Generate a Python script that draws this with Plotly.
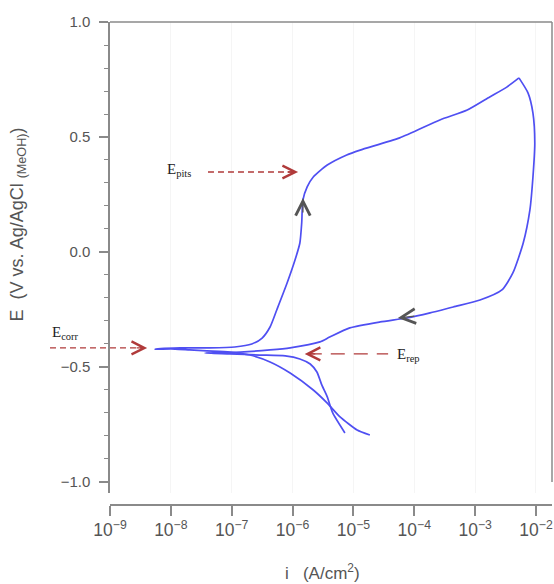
import numpy as np
import plotly.graph_objects as go

# Cyclic polarization curve: log10 of current density (A/cm^2) and potential (V)
# Forward scan: cathodic tail -> Ecorr -> passive range -> pitting -> vertex
fwd_log_i = [-4.73, -4.94, -5.22, -5.43, -5.66, -6.04, -6.37, -6.70, -7.03, -7.41, -7.69, -7.93, -8.26,
             -7.85, -7.36, -6.95, -6.67, -6.50, -6.37, -6.26, -6.09, -5.96, -5.88, -5.85, -5.83, -5.76,
             -5.66, -5.43, -5.11, -4.89, -4.24, -3.58, -3.13, -2.76, -2.48, -2.28]
fwd_E = [-0.796, -0.774, -0.717, -0.657, -0.600, -0.526, -0.478, -0.448, -0.435, -0.430, -0.426, -0.422, -0.422,
         -0.417, -0.417, -0.413, -0.400, -0.374, -0.326, -0.252, -0.135, -0.035, 0.039, 0.126, 0.226, 0.283,
         0.326, 0.378, 0.422, 0.443, 0.496, 0.574, 0.617, 0.674, 0.717, 0.757]

# Reverse scan: vertex -> repassivation -> cathodic tail
rev_log_i = [-2.28, -2.13, -2.05, -2.02, -2.05, -2.10, -2.21, -2.38, -2.56, -2.92,
             -3.36, -3.74, -4.12, -4.56, -5.06, -5.39, -5.55, -6.04, -6.37, -6.86,
             -7.44, -7.03, -6.54, -6.12, -5.88, -5.71, -5.60, -5.52, -5.43, -5.34, -5.14]
rev_E = [0.757, 0.691, 0.604, 0.474, 0.326, 0.183, 0.039, -0.091, -0.165, -0.209,
         -0.239, -0.265, -0.287, -0.304, -0.330, -0.370, -0.391, -0.417, -0.426, -0.435,
         -0.439, -0.443, -0.448, -0.452, -0.465, -0.487, -0.522, -0.578, -0.630, -0.700, -0.787]

# Characteristic potentials (V) and the current (log10) where each arrow points
E_pits, log_i_pits = 0.348, -5.91
E_corr, log_i_corr = -0.417, -8.39
E_rep, log_i_rep = -0.443, -5.80

X_MIN, X_MAX = -9.0, -1.737
Y_MIN, Y_MAX = -1.048, 1.0

CURVE = "#4f4ff2"
AXIS = "#8a8a8a"
TICKTXT = "#555555"
RED = "#b03a3a"
LABEL = "#222222"


def xp(logv):
    """log10 current -> fraction of the x-axis domain"""
    return (logv - X_MIN) / (X_MAX - X_MIN)


fig = go.Figure()
for lg, e in ((fwd_log_i, fwd_E), (rev_log_i, rev_E)):
    fig.add_trace(go.Scatter(
        x=10 ** np.array(lg), y=e, mode="lines",
        line=dict(color=CURVE, width=1.7, shape="spline", smoothing=0.6),
        hoverinfo="skip", showlegend=False,
    ))

shapes = [
    # frame: top and right edges
    dict(type="line", xref="paper", yref="paper", x0=0, x1=1, y0=1, y1=1,
         line=dict(color=AXIS, width=1.5)),
    dict(type="line", xref="paper", yref="y", x0=1, x1=1, y0=-1.0, y1=Y_MAX,
         line=dict(color=AXIS, width=1.5)),
    # dashed pointer lines
    dict(type="line", xref="paper", yref="y", x0=xp(-7.39), x1=xp(log_i_pits - 0.05),
         y0=E_pits, y1=E_pits, line=dict(color=RED, width=1.4, dash="6px,4px")),
    dict(type="line", xref="paper", yref="y", x0=xp(-9.986), x1=xp(log_i_corr - 0.05),
         y0=E_corr, y1=E_corr, line=dict(color=RED, width=1.4, dash="6px,4px")),
    dict(type="line", xref="paper", yref="y", x0=xp(log_i_rep + 0.05), x1=xp(-4.43),
         y0=E_rep, y1=E_rep, line=dict(color=RED, width=1.4, dash="14px,9px")),
]

annotations = []
# red arrowheads
for lx, ey, ax in ((log_i_pits, E_pits, -12), (log_i_corr, E_corr, -12), (log_i_rep, E_rep, 12)):
    annotations.append(dict(x=lx, y=ey, xref="x", yref="y", text="", showarrow=True,
                            ax=ax, ay=0, arrowhead=5, arrowsize=1.8, arrowwidth=1.4,
                            arrowcolor=RED))
# scan direction chevrons on the curve
annotations.append(dict(x=-5.83, y=0.235, xref="x", yref="y", text="", showarrow=True,
                        ax=0, ay=16, arrowhead=5, arrowsize=2.2, arrowwidth=1.3, arrowcolor="#555"))
annotations.append(dict(x=-4.27, y=-0.287, xref="x", yref="y", text="", showarrow=True,
                        ax=18, ay=-2, arrowhead=5, arrowsize=2.2, arrowwidth=1.3, arrowcolor="#555"))

serif = dict(family="Liberation Serif, Times New Roman, serif", size=15, color=LABEL)
annotations += [
    dict(x=-8.10, y=0.357, xref="x", yref="y", text="E<sub>pits</sub>", showarrow=False,
         xanchor="left", yanchor="middle", font=serif),
    dict(x=xp(-9.986), y=-0.352, xref="paper", yref="y", text="E<sub>corr</sub>", showarrow=False,
         xanchor="left", yanchor="middle", font=serif),
    dict(x=-4.32, y=-0.447, xref="x", yref="y", text="E<sub>rep</sub>", showarrow=False,
         xanchor="left", yanchor="middle", font=serif),
    # axis titles
    dict(x=0, y=0.12, xref="paper", yref="y", xshift=-92, textangle=-90,
         text="E  (V vs. Ag/AgCl <sub>(MeOH)</sub>)", showarrow=False,
         xanchor="center", yanchor="middle",
         font=dict(family="Arial, Liberation Sans", size=18, color=TICKTXT)),
    dict(x=0.5, y=0, xref="paper", yref="paper", xshift=-9, yshift=-67,
         text="i   (A/cm<sup>2</sup>)", showarrow=False,
         xanchor="center", yanchor="middle",
         font=dict(family="Arial, Liberation Sans", size=17, color=TICKTXT)),
]

fig.update_layout(
    width=554, height=584,
    margin=dict(l=110, r=2, t=22, b=79),
    paper_bgcolor="white", plot_bgcolor="white",
    showlegend=False,
    shapes=shapes, annotations=annotations,
    xaxis=dict(
        type="log", range=[X_MIN, X_MAX], domain=[0, 1],
        anchor="free", position=0,
        showline=True, linecolor=AXIS, linewidth=1.5,
        ticks="outside", ticklen=10, tickwidth=1.5, tickcolor=AXIS,
        dtick=1, exponentformat="power", showexponent="all",
        tickfont=dict(family="Arial, Liberation Sans", size=14, color=TICKTXT),
        showgrid=True, gridcolor="#f5f5f5", gridwidth=1,
        zeroline=False,
    ),
    yaxis=dict(
        range=[Y_MIN, Y_MAX], domain=[0.0248, 1],
        showline=True, linecolor=AXIS, linewidth=1.5,
        ticks="outside", ticklen=9, tickwidth=1.5, tickcolor=AXIS,
        tick0=0, dtick=0.5, tickformat=".1f", ticklabelstandoff=6,
        minor=dict(ticks="outside", ticklen=4, tickwidth=1.3, tickcolor=AXIS, dtick=0.1, tick0=0),
        tickfont=dict(family="Arial, Liberation Sans", size=15, color=TICKTXT),
        showgrid=False, zeroline=False,
    ),
)

fig.write_html("out.html")
